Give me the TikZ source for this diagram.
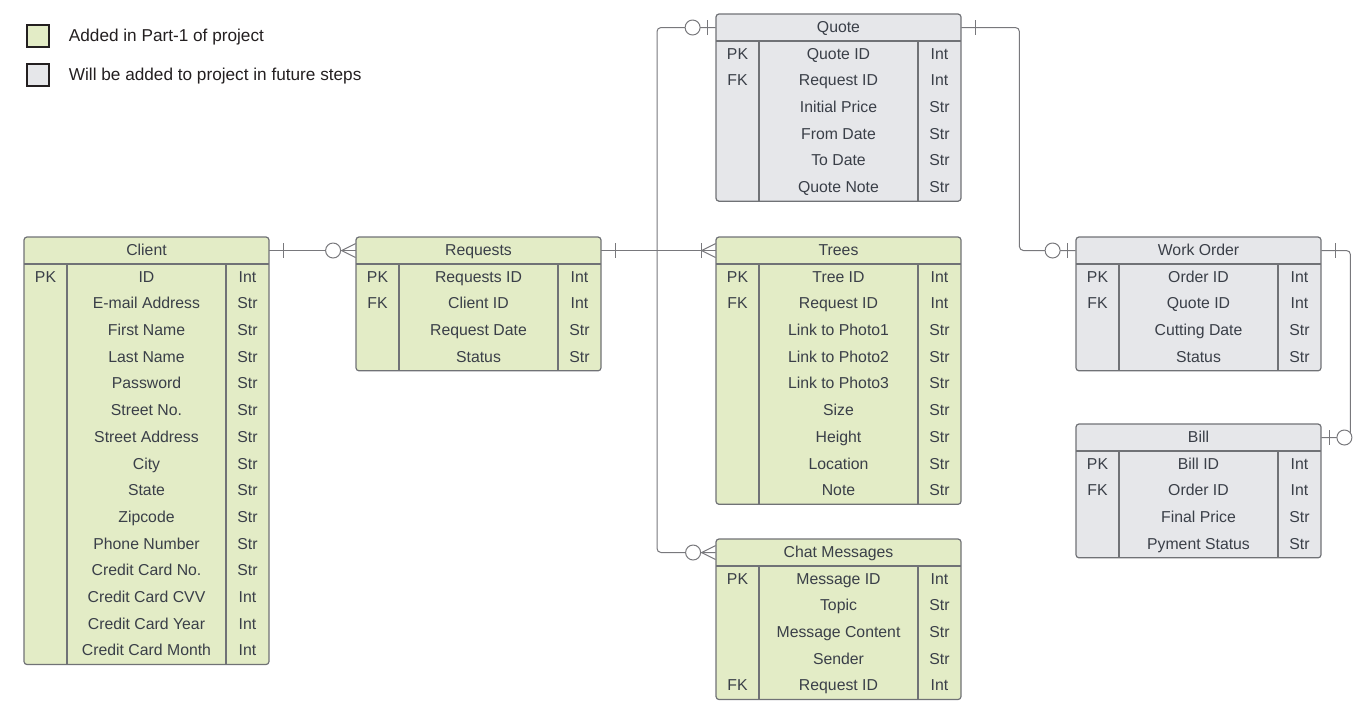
\documentclass[tikz,border=0pt]{standalone}
\usepackage{fontspec}
\setmainfont{Liberation Sans}
\usetikzlibrary{positioning}

\definecolor{partone}{RGB}{227,236,198}
\definecolor{future}{RGB}{230,231,234}
\definecolor{framegray}{RGB}{112,114,118}
\definecolor{linegray}{RGB}{120,120,124}
\definecolor{textgray}{RGB}{58,63,72}
\definecolor{legendink}{RGB}{35,31,32}

\tikzset{
  link/.style={draw=linegray, line width=0.5pt},
  tableframe/.style={draw=framegray, line width=0.6pt, rounded corners=1.5pt},
  tableline/.style={draw=framegray, line width=0.6pt},
  cell/.style={inner sep=0pt, text=textgray, text height=4.8pt, text depth=0pt,
    font=\fontsize{7.9}{9}\selectfont},
  headcell/.style={cell, minimum width=122.5pt},
  legendbox/.style={draw=legendink, line width=1pt, minimum size=11pt, inner sep=0pt},
  legendtext/.style={inner sep=0pt, text=legendink, text height=6.2pt, text depth=0pt,
    font=\fontsize{8.6}{10}\selectfont},
  one/.pic={\draw[link] (-7pt,-3.75pt) -- (-7pt,3.75pt);},
  zeroone/.pic={\draw[link] (-4pt,-3.75pt) -- (-4pt,3.75pt);
    \draw[link,fill=white] (-11.5pt,0) circle (3.75pt);},
  zeromany/.pic={\draw[link] (-7pt,0) -- (0,3.5pt) (-7pt,0) -- (0,-3.5pt);
    \draw[link,fill=white] (-11.25pt,0) circle (3.75pt);},
  onemany/.pic={\draw[link] (-7pt,0) -- (0,3.5pt) (-7pt,0) -- (0,-3.5pt);
    \draw[link] (-7pt,-3.75pt) -- (-7pt,3.75pt);}
}

% name, left, top, fill, title, number of rows, rows
\newcommand{\ertable}[7]{%
  \draw[tableframe, fill=#4] (#2,#3) rectangle ++(245,{27+#6*26.7});
  \node[headcell] (#1-head) at ({#2+122.5},{#3+13.5}) {#5};
  \draw[tableline] (#2,{#3+27}) -- ++(245,0);
  \draw[tableline] ({#2+43},{#3+27}) -- ++(0,{#6*26.7});
  \draw[tableline] ({#2+202},{#3+27}) -- ++(0,{#6*26.7});
  \foreach \k/\f/\t [count=\i] in {#7} {
    \node[cell] (#1-key-\i) at ({#2+21.5},{#3+27+(\i-0.5)*26.7}) {\k};
    \node[cell] (#1-field-\i) at ({#2+122.5},{#3+27+(\i-0.5)*26.7}) {\f};
    \node[cell] (#1-type-\i) at ({#2+223.5},{#3+27+(\i-0.5)*26.7}) {\t};
  }
}

\begin{document}
\begin{tikzpicture}[x=0.5pt, y=-0.5pt]
\useasboundingbox (0,0) rectangle (1370,720);

% Legend
\node[legendbox, fill=partone] (key-part1) at (37.5,35.5) {};
\node[legendtext, right=9.5pt of key-part1] (key-part1-text) {Added in Part-1 of project};
\node[legendbox, fill=future] (key-future) at (37.5,74.5) {};
\node[legendtext, right=9.5pt of key-future] (key-future-text) {Will be added to project in future steps};

% Tables
\ertable{client}{24}{237}{partone}{Client}{15}{PK/ID/Int, /E-mail Address/Str,
  /First Name/Str, /Last Name/Str, /Password/Str, /Street No./Str,
  /Street Address/Str, /City/Str, /State/Str, /Zipcode/Str, /Phone Number/Str,
  /Credit Card No./Str, /Credit Card CVV/Int, /Credit Card Year/Int,
  /Credit Card Month/Int}
\ertable{requests}{356}{237}{partone}{Requests}{4}{PK/Requests ID/Int,
  FK/Client ID/Int, /Request Date/Str, /Status/Str}
\ertable{quote}{716}{14}{future}{Quote}{6}{PK/Quote ID/Int, FK/Request ID/Int,
  /Initial Price/Str, /From Date/Str, /To Date/Str, /Quote Note/Str}
\ertable{trees}{716}{237}{partone}{Trees}{9}{PK/Tree ID/Int, FK/Request ID/Int,
  /Link to Photo1/Str, /Link to Photo2/Str, /Link to Photo3/Str, /Size/Str,
  /Height/Str, /Location/Str, /Note/Str}
\ertable{chat}{716}{539}{partone}{Chat Messages}{5}{PK/Message ID/Int, /Topic/Str,
  /Message Content/Str, /Sender/Str, FK/Request ID/Int}
\ertable{workorder}{1076}{237}{future}{Work Order}{4}{PK/Order ID/Int,
  FK/Quote ID/Int, /Cutting Date/Str, /Status/Str}
\ertable{bill}{1076}{424}{future}{Bill}{4}{PK/Bill ID/Int, FK/Order ID/Int,
  /Final Price/Str, /Pyment Status/Str}

% Relations
\coordinate (branch) at (657,250.5);
\draw[link] (client-head.east) -- (requests-head.west);
\draw[link] (requests-head.east) -- (trees-head.west);
\draw[link, rounded corners=2pt] (branch) |- (quote-head.west);
\draw[link, rounded corners=2pt] (branch) |- (chat-head.west);
\draw[link, rounded corners=2pt] (quote-head.east) -- ++(58,0) |- (workorder-head.west);
\draw[link, rounded corners=2pt] (workorder-head.east) -- ++(29,0) |- (bill-head.east);

% Ends
\pic[rotate=180] at (client-head.east) {one};
\pic at (requests-head.west) {zeromany};
\pic[rotate=180] at (requests-head.east) {one};
\pic at (trees-head.west) {onemany};
\pic at (quote-head.west) {zeroone};
\pic at (chat-head.west) {zeromany};
\pic[rotate=180] at (quote-head.east) {one};
\pic at (workorder-head.west) {zeroone};
\pic[rotate=180] at (workorder-head.east) {one};
\pic[rotate=180] at (bill-head.east) {zeroone};

\end{tikzpicture}
\end{document}
